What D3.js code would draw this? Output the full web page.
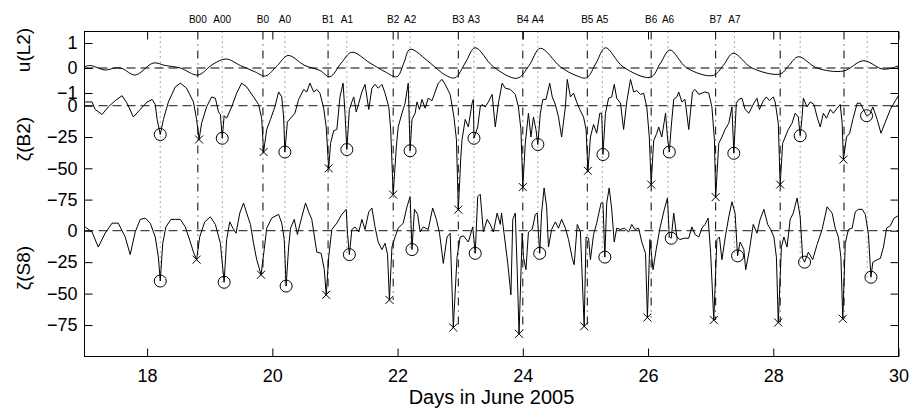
<!DOCTYPE html>
<html>
<head>
<meta charset="utf-8">
<script src="https://cdn.jsdelivr.net/npm/d3@7"></script>
<style>
  body { margin: 0; background: #fff; }
  svg { font-family: "Liberation Sans", Arial, Helvetica, sans-serif; }
  .tick line { stroke: #000; }
  .domain { display: none; }
</style>
</head>
<body>
<script>
var w = 910;
var h = 410;

// tick values
var xTicks = [18, 20, 22, 24, 26, 28, 30];
var uTicks = [-1, 0, 1];
var zTicks = [-75, -50, -25, 0];

// event times (days) and names
var bTimes = [18.81, 19.85, 20.89, 21.93, 22.97, 24.00, 25.03, 26.05, 27.08, 28.11, 29.13];
var aTimes = [18.21, 19.20, 20.20, 21.19, 22.20, 23.22, 24.24, 25.27, 26.32, 27.38, 28.43, 29.50];
var bNames = ["B00", "B0", "B1", "B2", "B3", "B4", "B5", "B6", "B7", "", ""];
var aNames = ["", "A00", "A0", "A1", "A2", "A3", "A4", "A5", "A6", "A7", "", ""];

// u(L2) [day, value]
var uL2 = [[17.0,0.05],[17.09,0.1],[17.2,0.02],[17.33,-0.08],[17.49,0],[17.6,-0.02],[17.81,-0.28],[18.1,0.2],[18.29,0.1],[18.53,0],
  [18.81,-0.28],[19.05,0.15],[19.26,0.36],[19.49,0.1],[19.72,-0.15],[19.89,-0.32],[20.08,0.1],[20.25,0.5],[20.52,0.1],[20.76,-0.1],
  [20.92,-0.35],[21.1,0.2],[21.27,0.63],[21.56,0.2],[21.8,-0.15],[21.99,-0.35],[22.1,0.2],[22.2,0.75],[22.52,0.2],[22.76,-0.28],
  [22.92,-0.39],[23.08,0.2],[23.24,0.81],[23.53,0.05],[23.91,-0.41],[24.1,0.1],[24.28,0.79],[24.6,0.05],[24.85,-0.3],[25.02,-0.39],
  [25.17,0.2],[25.32,0.81],[25.6,0.05],[26.04,-0.37],[26.2,0.2],[26.35,0.72],[26.62,0],[27.04,-0.3],[27.2,0.1],[27.36,0.59],
  [27.66,0],[28.11,-0.24],[28.25,0.1],[28.4,0.45],[28.7,0],[29.12,-0.12],[29.44,0.29],[29.76,-0.05],[30.0,0.09]];

// zeta(B2) [day, value]
var zetaB2 = [[17.01,3],[17.12,3],[17.17,-3],[17.28,-7],[17.38,-1],[17.49,4],[17.60,8],[17.68,2],[17.78,-9],[17.89,-3],[18.00,3],[18.08,5],[18.13,1],[18.16,-11],[18.21,-23],[18.26,-11],[18.34,3],[18.45,15],[18.53,18],[18.63,14],[18.74,3],[18.79,-11],[18.83,-27],[18.87,-14],[18.95,-1],[19.03,7],[19.09,6],[19.14,-5],[19.17,-7],[19.20,-26],[19.23,-8],[19.27,-10],[19.35,-1],[19.43,10],[19.51,18],[19.59,15],[19.70,7],[19.78,1],[19.83,-10],[19.86,-37],[19.91,-19],[19.97,-11],[20.04,-1],[20.10,11],[20.15,7],[20.18,-9],[20.20,-37],[20.24,-13],[20.31,-9],[20.36,-6],[20.42,5],[20.50,13],[20.55,11],[20.60,18],[20.66,11],[20.71,13],[20.76,10],[20.82,-2],[20.86,-17],[20.90,-50],[20.93,-30],[20.98,-20],[21.03,-19],[21.08,7],[21.13,18],[21.16,-6],[21.19,-35],[21.23,-3],[21.27,3],[21.30,7],[21.34,-5],[21.38,2],[21.43,11],[21.48,17],[21.54,-3],[21.59,14],[21.64,17],[21.69,14],[21.75,17],[21.80,10],[21.86,-1],[21.89,-19],[21.93,-71],[21.98,-33],[22.01,-17],[22.07,-6],[22.12,2],[22.17,18],[22.20,-36],[22.23,-11],[22.28,-6],[22.31,3],[22.35,-3],[22.39,5],[22.44,-2],[22.49,6],[22.55,4],[22.60,11],[22.65,18],[22.71,21],[22.76,17],[22.84,9],[22.90,-9],[22.94,-27],[22.97,-83],[23.01,-41],[23.03,-27],[23.08,-11],[23.13,-17],[23.19,2],[23.21,5],[23.22,-26],[23.28,-17],[23.32,-1],[23.35,1],[23.40,-1],[23.45,3],[23.51,9],[23.56,-17],[23.61,2],[23.67,18],[23.72,14],[23.80,13],[23.88,9],[23.93,-1],[23.97,-19],[24.00,-65],[24.04,-30],[24.09,-6],[24.13,-25],[24.17,-9],[24.21,-19],[24.24,-31],[24.28,-6],[24.32,5],[24.37,5],[24.43,18],[24.47,7],[24.52,1],[24.57,-9],[24.62,-25],[24.68,-1],[24.71,21],[24.76,7],[24.81,10],[24.86,3],[24.91,-3],[24.97,-9],[25.01,-19],[25.04,-52],[25.08,-25],[25.13,-15],[25.18,-22],[25.23,-6],[25.26,-6],[25.28,-39],[25.32,-6],[25.37,6],[25.42,7],[25.46,17],[25.50,6],[25.56,2],[25.61,-19],[25.66,3],[25.72,21],[25.77,11],[25.82,12],[25.88,9],[25.93,10],[25.98,-1],[26.02,-25],[26.05,-63],[26.09,-28],[26.14,-22],[26.17,-17],[26.22,-25],[26.28,-6],[26.31,-25],[26.34,-37],[26.37,-17],[26.41,5],[26.46,7],[26.49,11],[26.54,3],[26.59,5],[26.65,-19],[26.71,11],[26.75,13],[26.81,9],[26.86,10],[26.91,11],[26.97,10],[27.02,-1],[27.06,-27],[27.08,-73],[27.13,-30],[27.18,-25],[27.23,-19],[27.29,-14],[27.34,-1],[27.37,-38],[27.41,2],[27.45,5],[27.50,6],[27.55,-3],[27.61,-6],[27.69,2],[27.74,6],[27.78,-3],[27.84,4],[27.89,7],[27.94,4],[28.00,7],[28.03,3],[28.08,-14],[28.11,-63],[28.15,-30],[28.19,-25],[28.24,-19],[28.30,-14],[28.35,-6],[28.40,-9],[28.43,-24],[28.46,-9],[28.48,6],[28.54,-1],[28.59,3],[28.65,1],[28.70,-9],[28.75,-17],[28.80,-6],[28.85,-10],[28.91,-3],[28.96,-6],[29.02,-2],[29.07,1],[29.10,-14],[29.12,-43],[29.17,-25],[29.22,-22],[29.27,-11],[29.34,2],[29.39,2],[29.44,-3],[29.49,-8],[29.54,-7],[29.59,-1],[29.66,-11],[29.72,-22],[29.79,-13],[29.87,-3],[29.95,4],[30.00,8]];

// zeta(S8) [day, value]
var zetaS8 = [[17.01,3],[17.12,-1],[17.22,-13],[17.33,-2],[17.44,6],[17.54,6],[17.65,-5],[17.73,-19],[17.81,-1],[17.89,9],[17.97,10],[18.05,6],[18.13,-5],[18.18,-21],[18.21,-40],[18.25,-10],[18.30,3],[18.38,9],[18.45,9],[18.53,9],[18.61,3],[18.69,-9],[18.74,-17],[18.79,-23],[18.84,-5],[18.92,7],[19.01,11],[19.09,5],[19.17,-10],[19.23,-41],[19.27,-7],[19.32,7],[19.37,2],[19.42,-2],[19.48,14],[19.54,22],[19.59,14],[19.65,5],[19.70,-10],[19.75,-23],[19.82,-35],[19.87,-15],[19.91,2],[19.99,10],[20.10,13],[20.15,6],[20.19,-7],[20.22,-44],[20.26,-13],[20.29,2],[20.35,9],[20.40,-3],[20.46,9],[20.53,22],[20.58,15],[20.63,9],[20.71,-17],[20.78,-18],[20.83,-31],[20.86,-51],[20.90,-21],[20.95,1],[21.03,6],[21.11,13],[21.18,17],[21.20,-2],[21.23,-19],[21.27,1],[21.32,3],[21.38,-1],[21.43,9],[21.48,1],[21.54,15],[21.59,18],[21.64,3],[21.69,-9],[21.75,-15],[21.80,-10],[21.84,-19],[21.87,-55],[21.91,-13],[21.96,-5],[22.01,2],[22.09,6],[22.15,19],[22.20,27],[22.23,-15],[22.27,17],[22.32,13],[22.36,-1],[22.41,3],[22.49,1],[22.56,18],[22.62,9],[22.67,-2],[22.73,-26],[22.79,-5],[22.84,-2],[22.89,-77],[22.95,-21],[23.00,-5],[23.05,-4],[23.13,-9],[23.20,3],[23.24,-18],[23.28,27],[23.32,29],[23.37,-1],[23.43,9],[23.48,5],[23.53,-1],[23.59,14],[23.64,5],[23.66,14],[23.70,-2],[23.76,-26],[23.81,-51],[23.84,9],[23.88,14],[23.91,-31],[23.94,-82],[23.99,-2],[24.01,-21],[24.05,-31],[24.09,-1],[24.15,1],[24.20,13],[24.23,14],[24.27,-18],[24.30,14],[24.34,34],[24.38,19],[24.41,-13],[24.46,1],[24.52,7],[24.57,2],[24.62,9],[24.68,2],[24.73,-7],[24.79,-22],[24.82,-27],[24.87,5],[24.92,-1],[24.94,-26],[24.98,-76],[25.01,-5],[25.05,-6],[25.08,-23],[25.13,-3],[25.18,6],[25.25,22],[25.28,22],[25.31,-21],[25.34,22],[25.38,34],[25.42,17],[25.46,-9],[25.50,2],[25.56,1],[25.62,2],[25.69,-1],[25.74,5],[25.79,1],[25.85,2],[25.90,-9],[25.96,-18],[25.99,-69],[26.03,-7],[26.08,-31],[26.13,-15],[26.19,2],[26.26,17],[26.31,26],[26.34,-5],[26.37,-6],[26.41,14],[26.46,-5],[26.51,-7],[26.58,-6],[26.65,-6],[26.70,3],[26.75,-3],[26.81,-5],[26.86,2],[26.91,5],[26.96,10],[27.00,-18],[27.05,-71],[27.10,-7],[27.14,-5],[27.18,-23],[27.24,-3],[27.29,11],[27.34,23],[27.39,14],[27.43,-20],[27.47,-9],[27.53,-15],[27.56,-31],[27.62,-15],[27.68,5],[27.74,-2],[27.79,9],[27.85,17],[27.91,5],[27.96,1],[28.01,-5],[28.05,-21],[28.08,-73],[28.13,-13],[28.17,-5],[28.22,-13],[28.27,9],[28.32,14],[28.38,26],[28.43,11],[28.47,-22],[28.50,-25],[28.56,-17],[28.63,-23],[28.70,-11],[28.78,1],[28.86,19],[28.94,14],[28.99,2],[29.04,-5],[29.08,-21],[29.11,-70],[29.15,-10],[29.20,1],[29.26,2],[29.31,15],[29.36,17],[29.42,17],[29.47,13],[29.52,-3],[29.56,-37],[29.59,-25],[29.66,-23],[29.71,-22],[29.76,-13],[29.81,2],[29.87,4],[29.93,10],[30.00,12]];

// markers
var b2Circles = [[18.21,-23],[19.20,-26],[20.20,-37],[21.19,-35],[22.20,-36],[23.22,-26],[24.24,-31],[25.28,-39],[26.34,-37],[27.37,-38],[28.43,-24],[29.49,-8]];
var b2Crosses = [[18.83,-27],[19.86,-37],[20.90,-50],[21.93,-71],[22.97,-83],[24.00,-65],[25.04,-52],[26.05,-63],[27.08,-73],[28.11,-63],[29.12,-43]];
var s8Circles = [[18.21,-40],[19.23,-41],[20.22,-44],[21.23,-19],[22.23,-15],[23.24,-18],[24.27,-18],[25.31,-21],[26.37,-6],[27.43,-20],[28.50,-25],[29.56,-37]];
var s8Crosses = [[18.79,-23],[19.82,-35],[20.86,-51],[21.87,-55],[22.89,-77],[23.94,-82],[24.98,-76],[25.99,-69],[27.05,-71],[28.08,-73],[29.11,-70]];

// frame edges (not named top/left: window.top is read-only)
var fL = 84.5, fR = 898.5, fT = 31.5, fB = 356.5;

var x = d3.scaleLinear().domain([17, 30]).range([fL, fR]);
var yU = d3.scaleLinear().domain([-1, 1]).range([93, 43]);
var yB = d3.scaleLinear().domain([-75, 0]).range([199.6, 105.7]);
var yS = d3.scaleLinear().domain([-100, 0]).range([fB, 230.7]);

var svg = d3.select("body")
  .append("svg")
  .attr("width", w)
  .attr("height", h);

svg.append("rect").attr("width", w).attr("height", h).attr("fill", "#fff");

// vertical event lines
svg.selectAll(".bline")
  .data(bTimes)
  .enter()
  .append("line")
  .attr("x1", function(d) { return x(d); })
  .attr("x2", function(d) { return x(d); })
  .attr("y1", fT)
  .attr("y2", function(d, i) { return yS(s8Crosses[i][1]); })
  .attr("stroke", "#000")
  .attr("stroke-width", 1)
  .attr("stroke-dasharray", "8,5,1,5");

svg.selectAll(".aline")
  .data(aTimes)
  .enter()
  .append("line")
  .attr("x1", function(d) { return x(d); })
  .attr("x2", function(d) { return x(d); })
  .attr("y1", fT)
  .attr("y2", function(d, i) { return yS(s8Circles[i][1]); })
  .attr("stroke", "#555")
  .attr("stroke-width", 1)
  .attr("stroke-dasharray", "1,4");

// zero lines
svg.append("line")
  .attr("x1", fL).attr("x2", fR)
  .attr("y1", yU(0)).attr("y2", yU(0))
  .attr("stroke", "#000").attr("stroke-dasharray", "9,5");
[yB(0), yS(0)].forEach(function(yy) {
  svg.append("line")
    .attr("x1", fL).attr("x2", fR)
    .attr("y1", yy).attr("y2", yy)
    .attr("stroke", "#444").attr("stroke-width", 1.3)
    .attr("stroke-dasharray", "9,5");
});

// curves
var lineU = d3.line()
  .x(function(d) { return x(d[0]); })
  .y(function(d) { return yU(d[1]); })
  .curve(d3.curveCatmullRom);
var lineB = d3.line()
  .x(function(d) { return x(d[0]); })
  .y(function(d) { return yB(d[1]); });
var lineS = d3.line()
  .x(function(d) { return x(d[0]); })
  .y(function(d) { return yS(d[1]); });

svg.append("path").attr("d", lineU(uL2)).attr("fill", "none").attr("stroke", "#000").attr("stroke-width", 1);
svg.append("path").attr("d", lineB(zetaB2)).attr("fill", "none").attr("stroke", "#000").attr("stroke-width", 1);
svg.append("path").attr("d", lineS(zetaS8)).attr("fill", "none").attr("stroke", "#000").attr("stroke-width", 1);

// markers
function circles(data, y) {
  svg.append("g").selectAll("circle")
    .data(data)
    .enter()
    .append("circle")
    .attr("cx", function(d) { return x(d[0]); })
    .attr("cy", function(d) { return y(d[1]); })
    .attr("r", 6)
    .attr("fill", "none")
    .attr("stroke", "#000");
}
function crosses(data, y) {
  svg.append("g").selectAll("path")
    .data(data)
    .enter()
    .append("path")
    .attr("transform", function(d) { return "translate(" + x(d[0]) + "," + y(d[1]) + ")"; })
    .attr("d", "M-4,-4L4,4M-4,4L4,-4")
    .attr("fill", "none")
    .attr("stroke", "#000");
}
circles(b2Circles, yB);
crosses(b2Crosses, yB);
circles(s8Circles, yS);
crosses(s8Crosses, yS);

// event labels
svg.selectAll(".blab")
  .data(bTimes)
  .enter()
  .append("text")
  .attr("x", function(d) { return x(d); })
  .attr("y", 23)
  .attr("text-anchor", "middle")
  .attr("font-size", 10)
  .text(function(d, i) { return bNames[i]; });
svg.selectAll(".alab")
  .data(aTimes)
  .enter()
  .append("text")
  .attr("x", function(d) { return x(d); })
  .attr("y", 23)
  .attr("text-anchor", "middle")
  .attr("font-size", 10)
  .text(function(d, i) { return aNames[i]; });

// frame box
svg.append("rect")
  .attr("x", fL).attr("y", fT)
  .attr("width", fR - fL).attr("height", fB - fT)
  .attr("fill", "none").attr("stroke", "#000");

// axes
var fmt = d3.format("d");
function styleAxis(g) {
  g.selectAll("text").attr("font-size", 18).attr("fill", "#000")
    .attr("font-family", "\"Liberation Sans\", Arial, sans-serif");
}
svg.append("g").attr("transform", "translate(" + fL + ",0)")
  .call(d3.axisLeft(yU).tickValues(uTicks).tickSize(-8).tickPadding(7).tickFormat(fmt)).call(styleAxis);
svg.append("g").attr("transform", "translate(" + fL + ",0)")
  .call(d3.axisLeft(yB).tickValues(zTicks).tickSize(-8).tickPadding(7).tickFormat(fmt)).call(styleAxis);
svg.append("g").attr("transform", "translate(" + fL + ",0)")
  .call(d3.axisLeft(yS).tickValues(zTicks).tickSize(-8).tickPadding(7).tickFormat(fmt)).call(styleAxis);

svg.append("g").attr("transform", "translate(" + fR + ",0)")
  .call(d3.axisRight(yU).tickValues(uTicks).tickSize(-8).tickFormat(""));
svg.append("g").attr("transform", "translate(" + fR + ",0)")
  .call(d3.axisRight(yB).tickValues(zTicks).tickSize(-8).tickFormat(""));
svg.append("g").attr("transform", "translate(" + fR + ",0)")
  .call(d3.axisRight(yS).tickValues(zTicks).tickSize(-8).tickFormat(""));

svg.append("g").attr("transform", "translate(0," + fB + ")")
  .call(d3.axisBottom(x).tickValues(xTicks).tickSize(-8).tickPadding(13).tickFormat(fmt)).call(styleAxis);
svg.append("g").attr("transform", "translate(0," + fT + ")")
  .call(d3.axisTop(x).tickValues(xTicks).tickSize(-8).tickFormat(""));

// axis titles
svg.append("text")
  .attr("x", (fL + fR) / 2)
  .attr("y", 404)
  .attr("text-anchor", "middle")
  .attr("font-size", 20)
  .text("Days in June 2005");

var yLabels = [["u(L2)", 50], ["\u03b6(B2)", 139], ["\u03b6(S8)", 268]];
yLabels.forEach(function(l) {
  svg.append("text")
    .attr("transform", "translate(30," + l[1] + ") rotate(-90)")
    .attr("text-anchor", "middle")
    .attr("font-size", 19)
    .text(l[0]);
});
</script>
</body>
</html>
